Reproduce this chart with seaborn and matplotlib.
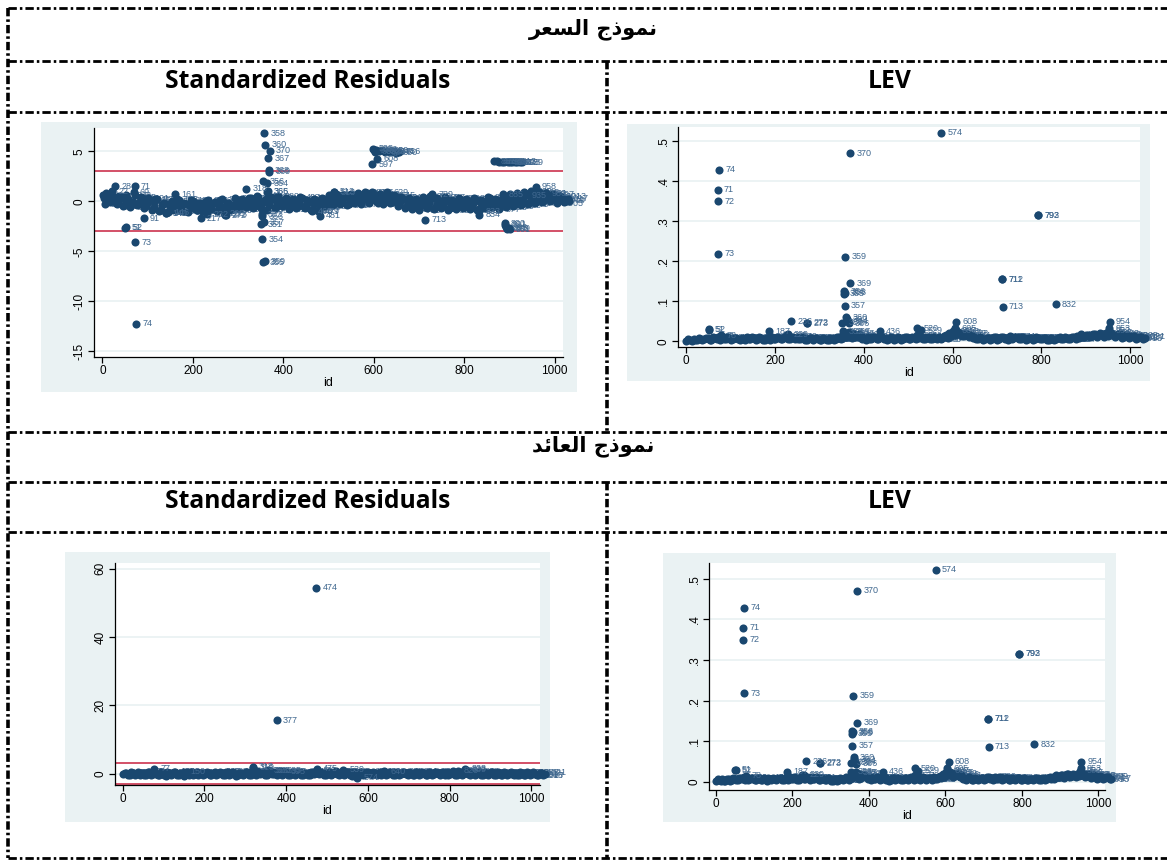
import matplotlib
matplotlib.use("Agg")
import matplotlib.pyplot as plt
from matplotlib.lines import Line2D
import pandas as pd
import seaborn as sns

sns.set_theme(style="white")
plt.rcParams['font.family'] = ['Liberation Sans', 'DejaVu Sans']
plt.rcParams['lines.scale_dashes'] = False
plt.rcParams['text.color'] = 'black'

# ---- texts ----
# Arabic titles written with presentation forms in visual order (matplotlib has no shaping)
title_price = "\uFEAE\uFECC\uFEB4\uFEDF\uFE8D \uFE9D\uFEAB\uFEEE\uFEE4\uFEE7"   # نموذج السعر
title_return = "\uFEAA\uFE8B\uFE8E\uFECC\uFEDF\uFE8D \uFE9D\uFEAB\uFEEE\uFEE4\uFEE7"  # نموذج العائد
head_left = "Standardized Residuals"
head_right = "LEV"

# ---- data ----
# ids of the dense band of observations (interleaved rows)
band_ids = list(range(1, 1034, 8))
band_ids2 = list(range(5, 1030, 8))
band_ids3 = list(range(3, 1034, 16))

sr_price_band = [
    0.6, 0.8, -0.1, 0.4, -0.3, 0.5, -0.4, 0.2, -0.2, 0.6,
    -0.3, 0.3, -0.5, 0.1, -0.6, 0.2, -0.9, -0.2, -1.1, 0.0,
    -0.8, 0.1, -1.0, -0.3, -0.6, 0.0, -0.9, -0.2, -0.7, 0.1,
    -0.8, -0.1, -0.5, 0.2, -0.9, -0.3, -0.6, 0.1, -0.4, 0.0,
    -0.5, 0.3, -0.3, 0.4, -0.8, 0.2, -0.4, 0.3, -0.6, 0.1,
    -0.4, 0.2, -0.6, 0.0, -0.5, 0.3, -0.7, -0.1, -0.9, 0.1,
    -0.6, 0.2, -0.3, 0.5, -0.2, 0.6, -0.1, 0.4, -0.3, 0.5,
    0.0, 0.6, 0.2, 0.8, 0.1, 0.7, -0.2, 0.5, 0.0, 0.6,
    -0.1, 0.4, -0.3, 0.2, -0.5, 0.1, -0.6, 0.0, -0.4, 0.2,
    -0.5, 0.3, -0.6, 0.0, -0.4, 0.2, -0.7, -0.1, -0.5, 0.1,
    -0.6, 0.0, -0.4, 0.2, -0.8, -0.1, -0.5, 0.3, -0.3, 0.1,
    -0.4, 0.4, -0.2, 0.5, -0.3, 0.6, 0.0, 0.7, -0.1, 0.8,
    0.2, 0.7, 0.1, 0.6, 0.3, 0.5, 0.1, 0.3, 0.1, 0.0,
]
sr_price_band2 = [
    -0.3, 0.4, 0.2, -0.2, 0.5, -0.5, 0.6, -0.6, 0.9, -0.4,
    0.4, -0.7, 0.3, -0.9, 0.2, -1.0, -0.3, -1.2, -0.5, -0.9,
    0.2, -0.9, -0.2, -1.1, 0.1, -0.8, -0.3, -1.0, 0.0, -0.6,
    -0.2, -1.0, 0.1, -0.7, -0.2, -0.9, 0.3, -0.8, 0.2, -0.6,
    0.3, -0.7, 0.5, -0.6, 0.0, -0.9, 0.4, -0.7, 0.5, -0.5,
    0.3, -0.8, 0.2, -0.7, 0.4, -0.6, 0.1, -0.9, 0.2, -1.0,
    0.3, -0.5, 0.6, -0.4, 0.7, -0.3, 0.6, -0.4, 0.7, -0.2,
    0.8, -0.3, 0.9, -0.2, 0.9, 0.0, 0.7, -0.3, 0.9, -0.2,
    0.6, -0.5, 0.4, -0.7, 0.3, -0.8, 0.2, -0.9, 0.4, -0.7,
    0.5, -0.8, 0.3, -0.7, 0.4, -0.9, 0.1, -0.8, 0.3, -0.7,
    0.2, -0.8, 0.3, -0.9, 0.1, -0.7, 0.4, -0.6, 0.2, -0.8,
    0.5, -0.6, 0.7, -0.5, 0.8, -0.4, 0.9, -0.3, 1.0, -0.2,
    0.9, -0.1, 0.8, 0.0, 0.7, -0.2, 0.5, -0.1, 0.2,
]
# middle of the band (fills the gap between the two rows above)
sr_price_band3 = [
    0.3, 0.2, 0.0, 0.1, -0.1, 0.0, -0.2, -0.1, -0.4, -0.3,
    -0.4, -0.3, -0.5, -0.2, -0.4, -0.3, -0.5, -0.2, -0.4, -0.3,
    -0.2, 0.0, -0.1, 0.1, -0.2, -0.1, -0.3, -0.2, -0.4, -0.3,
    -0.2, 0.0, 0.1, 0.2, 0.1, 0.3, 0.2, 0.4, 0.3, 0.3,
    0.1, -0.1, -0.2, -0.1, -0.3, -0.2, -0.3, -0.1, -0.3, -0.2,
    -0.3, -0.2, -0.1, -0.2, -0.1, 0.0, 0.1, 0.2, 0.3, 0.2,
    0.4, 0.3, 0.3, 0.2, 0.1,
]

sr_return_band = [
    -0.2, 0.1, -0.4, 0.3, -0.1, -0.5, 0.2, -0.3, 0.6, -0.2,
    0.0, -0.4, 0.3, -0.6, 0.1, -0.2, 0.4, -0.5, 0.0, 0.2,
    -0.3, 0.5, -0.1, -0.4, 0.3, -0.2, 0.1, -0.5, 0.4, -0.1,
    0.2, -0.3, 0.6, -0.2, 0.0, -0.4, 0.3, -0.1, 0.5, -0.3,
    0.1, 0.8, -0.2, 0.4, -0.4, 0.7, 0.0, -0.3, 0.5, -0.1,
    0.3, -0.5, 0.2, -0.2, 0.4, -0.4, 0.1, -0.3, 0.6, 0.9,
    -0.2, 0.3, -0.4, 0.5, 0.0, 0.7, -0.3, 0.2, -0.1, 0.4,
    -0.6, 0.1, -0.3, 0.5, -0.2, 0.6, -0.4, 0.2, 0.0, -0.3,
    0.4, -0.1, 0.3, -0.5, 0.2, -0.2, 0.5, -0.4, 0.1, -0.3,
    0.6, -0.1, 0.2, -0.4, 0.3, -0.2, 0.5, -0.3, 0.1, 0.4,
    -0.2, 0.7, -0.4, 0.2, 0.0, 0.8, -0.3, 0.3, -0.1, 0.5,
    -0.4, 0.2, -0.2, 0.4, -0.5, 0.1, -0.3, 0.3, -0.2, 0.0,
    0.2, -0.4, 0.1, -0.3, 0.3, -0.2, 0.0, -0.4, 0.1, -0.2,
]
sr_return_band2 = [
    0.3, -0.5, 0.4, -0.3, 0.5, 0.2, -0.4, 0.6, -0.3, 0.4,
    -0.5, 0.5, -0.3, 0.4, -0.4, 0.6, -0.3, 0.3, -0.6, 0.5,
    0.4, -0.4, 0.5, 0.2, -0.5, 0.4, -0.4, 0.3, -0.3, 0.6,
    -0.5, 0.4, -0.3, 0.5, -0.6, 0.3, -0.4, 0.6, -0.3, 0.4,
    -0.5, 0.2, 0.5, -0.4, 0.6, -0.2, 0.5, 0.4, -0.4, 0.6,
    -0.3, 0.4, -0.5, 0.5, -0.3, 0.3, -0.5, 0.5, -0.2, 0.3,
    0.5, -0.4, 0.4, -0.3, 0.6, -0.2, 0.5, -0.4, 0.6, -0.3,
    0.4, -0.5, 0.5, -0.3, 0.4, -0.2, 0.5, -0.4, 0.6, 0.3,
    -0.4, 0.5, -0.3, 0.4, -0.5, 0.6, -0.2, 0.4, -0.4, 0.5,
    -0.3, 0.5, -0.4, 0.4, -0.5, 0.6, -0.2, 0.5, -0.4, -0.3,
    0.5, -0.3, 0.6, -0.4, 0.5, -0.2, 0.4, -0.5, 0.6, -0.3,
    0.4, -0.5, 0.5, -0.3, 0.4, -0.4, 0.5, -0.5, 0.4, -0.4,
    -0.3, 0.4, -0.4, 0.5, -0.3, 0.4, -0.5, 0.3, -0.4,
]

lev_band = [
    0.002, 0.004, 0.006, 0.003, 0.007, 0.005, 0.008, 0.004, 0.009, 0.012,
    0.010, 0.006, 0.008, 0.005, 0.009, 0.004, 0.007, 0.010, 0.005, 0.008,
    0.006, 0.009, 0.004, 0.008, 0.011, 0.006, 0.009, 0.005, 0.016, 0.007,
    0.010, 0.012, 0.006, 0.009, 0.004, 0.008, 0.005, 0.007, 0.003, 0.006,
    0.004, 0.008, 0.006, 0.010, 0.018, 0.012, 0.015, 0.020, 0.011, 0.014,
    0.009, 0.012, 0.007, 0.010, 0.006, 0.011, 0.008, 0.005, 0.009, 0.006,
    0.008, 0.005, 0.010, 0.006, 0.009, 0.016, 0.012, 0.007, 0.010, 0.006,
    0.009, 0.012, 0.008, 0.015, 0.020, 0.025, 0.018, 0.022, 0.014, 0.019,
    0.016, 0.010, 0.007, 0.009, 0.005, 0.008, 0.006, 0.010, 0.007, 0.012,
    0.009, 0.013, 0.008, 0.011, 0.006, 0.009, 0.005, 0.008, 0.006, 0.009,
    0.005, 0.008, 0.004, 0.007, 0.006, 0.010, 0.005, 0.009, 0.006, 0.011,
    0.013, 0.018, 0.012, 0.016, 0.014, 0.019, 0.015, 0.017, 0.020, 0.018,
    0.016, 0.014, 0.018, 0.012, 0.015, 0.010, 0.013, 0.009, 0.011, 0.008,
]
lev_band2 = [
    0.006, 0.002, 0.003, 0.008, 0.003, 0.009, 0.004, 0.010, 0.006, 0.004,
    0.005, 0.010, 0.004, 0.009, 0.005, 0.009, 0.003, 0.006, 0.010, 0.004,
    0.010, 0.004, 0.009, 0.004, 0.006, 0.011, 0.005, 0.010, 0.007, 0.012,
    0.005, 0.006, 0.011, 0.004, 0.009, 0.004, 0.009, 0.003, 0.008, 0.003,
    0.009, 0.004, 0.011, 0.005, 0.010, 0.022, 0.008, 0.012, 0.018, 0.007,
    0.004, 0.007, 0.012, 0.005, 0.010, 0.005, 0.003, 0.010, 0.004, 0.010,
    0.004, 0.010, 0.005, 0.011, 0.005, 0.008, 0.005, 0.012, 0.005, 0.010,
    0.005, 0.006, 0.013, 0.009, 0.013, 0.016, 0.024, 0.013, 0.021, 0.011,
    0.008, 0.005, 0.011, 0.004, 0.009, 0.004, 0.010, 0.004, 0.011, 0.006,
    0.004, 0.007, 0.012, 0.005, 0.010, 0.004, 0.009, 0.004, 0.010, 0.005,
    0.009, 0.004, 0.008, 0.004, 0.009, 0.005, 0.010, 0.005, 0.010, 0.006,
    0.008, 0.012, 0.017, 0.010, 0.019, 0.011, 0.020, 0.012, 0.014, 0.022,
    0.011, 0.019, 0.009, 0.016, 0.008, 0.014, 0.007, 0.012, 0.006,
]

# labelled outlying observations
sr_price_out_id = [358, 360, 370, 367, 368, 369, 356, 364, 318, 366, 365, 354, 355, 359,
                   357, 351, 352, 353, 74, 73, 51, 52, 91, 71, 28, 22, 161, 217, 272, 273,
                   713, 597, 608, 598, 600, 603, 606, 612, 618, 624, 630, 637, 644, 650, 656,
                   867, 872, 877, 883, 888, 896, 902, 907, 913, 918, 923, 929,
                   890, 891, 893, 895, 899, 901, 958, 834, 481, 479, 512, 513, 729, 885,
                   935, 140, 146, 232, 268, 463, 833, 980]
sr_price_out_val = [6.8, 5.66, 5.09, 4.31, 3.1, 2.95, 2.04, 1.84, 1.27, 1.0, 0.95, -3.8, -6.1, -6.0,
                    -2.1, -2.3, -1.3, -1.5, -12.25, -4.07, -2.62, -2.6, -1.67, 1.54, 1.5, 1.0, 0.73, -1.7, -1.37, -1.35,
                    -1.84, 3.73, 4.25, 5.25, 5.1, 4.95, 5.15, 5.0, 5.1, 4.9, 5.05, 4.95, 5.0, 4.85, 4.95,
                    4.0, 4.0, 3.98, 3.97, 3.95, 3.92, 3.9, 3.93, 3.95, 3.9, 3.92, 3.9,
                    -2.2, -2.35, -2.6, -2.75, -2.7, -2.8, 1.45, -1.35, -1.45, -1.0, 0.95, 0.9, 0.7, 0.7,
                    0.6, -1.2, -1.1, -1.3, -1.2, -1.0, -1.0, 0.8]

sr_return_out_id = [474, 377, 318, 319, 77, 475, 838, 839, 539, 574, 385, 395, 355, 360, 820, 150, 640]
sr_return_out_val = [54.4, 15.6, 2.0, 1.7, 1.5, 1.5, 1.4, 1.1, 1.2, -1.2, 0.9, 0.6, 1.0, 0.8, 0.8, 0.6, 0.7]

lev_out_id = [574, 370, 74, 71, 72, 73, 359, 369, 356, 358, 355, 357, 712, 711, 713, 792, 793,
              832, 954, 953, 952, 608, 605, 607, 51, 52, 236, 272, 273, 187, 436, 520, 529,
              360, 362, 364, 366, 352, 353, 367, 229, 78]
lev_out_val = [0.522, 0.471, 0.429, 0.379, 0.350, 0.2185, 0.212, 0.146, 0.125, 0.122, 0.119, 0.089,
               0.156, 0.155, 0.0865, 0.316, 0.315, 0.0925, 0.049, 0.033, 0.028, 0.049, 0.033, 0.028,
               0.030, 0.029, 0.051, 0.047, 0.046, 0.0255, 0.025, 0.033, 0.028, 0.061, 0.056, 0.051,
               0.045, 0.047, 0.025, 0.024, 0.018, 0.015]

x_ticks = [0, 200, 400, 600, 800, 1000]
sr_price_ticks = [5, 0, -5, -10, -15]
sr_return_ticks = [0, 20, 40, 60]
lev_ticks = [0, 0.1, 0.2, 0.3, 0.4, 0.5]
lev_tick_labels = ["0", ".1", ".2", ".3", ".4", ".5"]

# ---- styles ----
navy = "#1A476F"
label_col = "#40688f"
bg_col = "#EAF2F3"
red = "#C8203F"

W, H = 1167, 861
fig = plt.figure(figsize=(W / 100, H / 100), dpi=100)


def px_axes(x0, y0, x1, y1):
    return fig.add_axes([x0 / W, 1 - y1 / H, (x1 - x0) / W, (y1 - y0) / H])


def draw_panel(bg_box, ax_box, bands, out_id, out_val, xlim, ylim, yticks, ylabels, hlines):
    bg = px_axes(*bg_box)
    bg.set_facecolor(bg_col)
    bg.set_xticks([])
    bg.set_yticks([])
    for s in bg.spines.values():
        s.set_visible(False)

    ax = px_axes(*ax_box)
    ax.set_facecolor("white")
    ids, vals = [], []
    for b_ids, b_vals in bands:
        ids += b_ids
        vals += b_vals
    n_band = len(ids)
    ids = ids + out_id
    vals = vals + out_val
    df = pd.DataFrame({"id": ids, "val": vals})
    sns.scatterplot(data=df, x="id", y="val", ax=ax, color=navy, s=34, linewidth=0,
                    clip_on=False, zorder=3)
    # marker labels (Stata mlabel style), band labels sit behind the markers
    for k, (i, v) in enumerate(zip(ids, vals)):
        ax.annotate(str(i), (i, v), xytext=(4.5, 0), textcoords="offset points",
                    fontsize=6.5, color=label_col, va="center",
                    zorder=2 if k < n_band else 4)
    for h in hlines:
        ax.axhline(h, color=red, lw=1.1, zorder=2.5)

    ax.set_xlim(*xlim)
    ax.set_ylim(*ylim)
    ax.set_xticks(x_ticks)
    ax.set_yticks(yticks)
    ax.set_yticklabels(ylabels, rotation=90, va="center")
    ax.yaxis.grid(True, color=bg_col, lw=1.3)
    ax.set_axisbelow(True)
    for side in ["top", "right"]:
        ax.spines[side].set_visible(False)
    for side in ["left", "bottom"]:
        ax.spines[side].set_color("black")
        ax.spines[side].set_linewidth(0.9)
    ax.tick_params(bottom=True, left=True, direction="out", length=4, width=0.9,
                   labelsize=8.5, pad=2, colors="black")
    ax.set_xlabel("id", fontsize=9, labelpad=0, color="black")
    ax.set_ylabel("")
    return ax


lev_bands = [(band_ids, lev_band), (band_ids2, lev_band2)]

# 1. price model, standardized residuals
draw_panel((41, 122, 577, 392), (94, 128, 563, 357),
           [(band_ids, sr_price_band), (band_ids2, sr_price_band2), (band_ids3, sr_price_band3)],
           sr_price_out_id, sr_price_out_val, (-18.6, 1018.7), (-15.55, 7.35),
           sr_price_ticks, [str(t) for t in sr_price_ticks], [3, -3])
# 2. price model, leverage
draw_panel((627, 124, 1150, 381), (678, 127, 1140, 347), lev_bands,
           lev_out_id, lev_out_val, (-18, 1022), (-0.014, 0.536),
           lev_ticks, lev_tick_labels, [])
# 3. return model, standardized residuals
draw_panel((65, 552, 550, 822), (115, 563, 540, 785),
           [(band_ids, sr_return_band), (band_ids2, sr_return_band2)],
           sr_return_out_id, sr_return_out_val, (-19, 1021), (-3.3, 61.7),
           sr_return_ticks, [str(t) for t in sr_return_ticks], [3, -3])
# 4. return model, leverage
draw_panel((663, 553, 1116, 822), (709, 563, 1105, 790), lev_bands,
           lev_out_id, lev_out_val, (-18, 1017), (-0.02, 0.539),
           lev_ticks, lev_tick_labels, [])

# ---- table frame (dash-dot) ----
dashdot = (0, (6, 2.2, 1.8, 2.2))
for y in [8, 61, 112, 432, 482, 532, 858]:
    fig.add_artist(Line2D([8 / W, 1], [1 - y / H, 1 - y / H], color="black", lw=2.0,
                          linestyle=dashdot, transform=fig.transFigure))
fig.add_artist(Line2D([8 / W, 8 / W], [1 - 8 / H, 1 - 858 / H], color="black", lw=2.6,
                      linestyle=dashdot, transform=fig.transFigure))
for y0, y1 in [(61, 432), (482, 858)]:
    fig.add_artist(Line2D([607 / W, 607 / W], [1 - y0 / H, 1 - y1 / H], color="black", lw=2.6,
                          linestyle=dashdot, transform=fig.transFigure))

# ---- table texts ----
fig.text(593 / W, 1 - 29 / H, title_price, family=["DejaVu Sans"], weight="bold", fontsize=15,
         ha="center", va="center", color="black")
fig.text(593 / W, 1 - 446 / H, title_return, family=["DejaVu Sans"], weight="bold", fontsize=15,
         ha="center", va="center", color="black")
for y in [82, 502]:
    fig.text(308 / W, 1 - y / H, head_left, family=["Open Sans", "DejaVu Sans"], weight="bold",
             fontsize=17.7, ha="center", va="center", color="black")
    fig.text(890 / W, 1 - y / H, head_right, family=["Open Sans", "DejaVu Sans"], weight="bold",
             fontsize=17.7, ha="center", va="center", color="black")

fig.savefig("out.png", dpi=100)
